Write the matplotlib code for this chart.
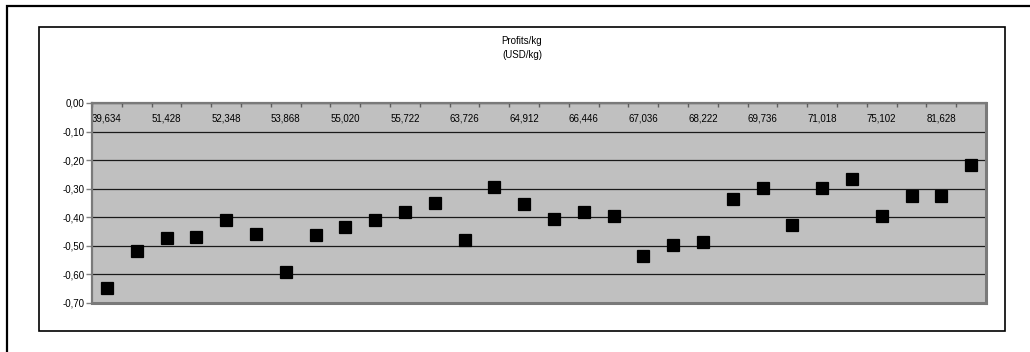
import matplotlib
matplotlib.use("Agg")
import matplotlib.pyplot as plt
from matplotlib.patches import Rectangle
import numpy as np

plt.rcParams['font.family'] = ['Liberation Sans', 'DejaVu Sans']

# Profit per kg (USD/kg) for each of 30 production levels
profits = [-0.648, -0.519, -0.473, -0.469, -0.411, -0.457, -0.590, -0.461,
           -0.434, -0.408, -0.380, -0.350, -0.480, -0.294, -0.352, -0.406,
           -0.383, -0.394, -0.537, -0.496, -0.487, -0.336, -0.299, -0.427,
           -0.298, -0.265, -0.397, -0.327, -0.327, -0.218]

# Category labels shown on every second category
category_labels = ["39,634", "51,428", "52,348", "53,868", "55,020", "55,722",
                   "63,726", "64,912", "66,446", "67,036", "68,222", "69,736",
                   "71,018", "75,102", "81,628"]

y_ticks = [0.0, -0.1, -0.2, -0.3, -0.4, -0.5, -0.6, -0.7]
y_tick_labels = ["0,00", "-0,10", "-0,20", "-0,30", "-0,40", "-0,50", "-0,60", "-0,70"]

title_lines = ["Profits/kg", "(USD/kg)"]

W, H = 1030, 352
fig = plt.figure(figsize=(W / 100, H / 100), dpi=100)

def fx(px):
    return px / W

def fy(py):
    return 1 - py / H

# outer and inner chart frames
fig.patches.append(Rectangle((fx(7), fy(400)), fx(1100), fy(6) - fy(400),
                             transform=fig.transFigure, fill=False,
                             edgecolor='black', linewidth=1.6, zorder=0))
fig.patches.append(Rectangle((fx(39), fy(331)), fx(1005) - fx(39), fy(27) - fy(331),
                             transform=fig.transFigure, fill=False,
                             edgecolor='black', linewidth=1.2, zorder=0))

ax = fig.add_axes([fx(92), fy(303), fx(986) - fx(92), fy(103) - fy(303)])
ax.set_facecolor('#C0C0C0')

n = len(profits)
x = np.arange(n)
ax.plot(x, profits, linestyle='none', marker='s', markersize=9,
        markerfacecolor='black', markeredgecolor='black', markeredgewidth=0.9,
        zorder=3, clip_on=False)

ax.set_xlim(-0.5, n - 0.5)
ax.set_ylim(-0.7, 0.0)

# y axis
ax.set_yticks(y_ticks)
ax.set_yticklabels(y_tick_labels)
ax.tick_params(axis='y', direction='out', length=4, width=1, color='#808080',
               pad=1.5, labelsize=7, labelcolor='black')
ax.yaxis.grid(True, color='#1a1a1a', linewidth=0.9)
ax.set_axisbelow(True)

# x axis sits at y = 0 (top of plot), labels inside the plot area
ax.set_xticks(x[::2])
ax.set_xticklabels(category_labels)
ax.set_xticks(np.arange(n + 1) - 0.5, minor=True)
ax.tick_params(axis='x', which='major', bottom=False, top=True, labelbottom=False,
               labeltop=True, length=0, pad=-14.5, labelsize=7, labelcolor='black')
ax.tick_params(axis='x', which='minor', bottom=False, top=True, direction='in',
               length=3, width=1, color='#606060')
for t in ax.xaxis.get_major_ticks():
    t.label2.set_clip_on(True)
    t.label2.set_clip_box(ax.bbox)

for side, lw in (('left', 1.6), ('top', 1.6), ('right', 2.2), ('bottom', 2.2)):
    ax.spines[side].set_color('#7a7a7a')
    ax.spines[side].set_linewidth(lw)

fig.text(fx(522), fy(41.5), title_lines[0], ha='center', va='center', fontsize=7)
fig.text(fx(522), fy(55), title_lines[1], ha='center', va='center', fontsize=7)

fig.savefig("out.png", dpi=100, facecolor='white')
